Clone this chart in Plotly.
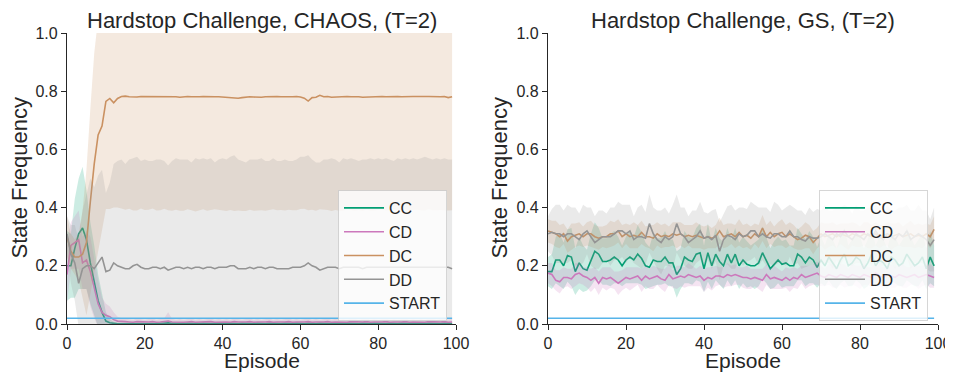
import plotly.graph_objects as go

episodes = list(range(100))
series_names = ["CC", "CD", "DC", "DD", "START"]
panel_titles = ["Hardstop Challenge, CHAOS, (T=2)", "Hardstop Challenge, GS, (T=2)"]
x_ticks = [0, 20, 40, 60, 80, 100]
y_ticks = [0.0, 0.2, 0.4, 0.6, 0.8, 1.0]

# ---------------- Left panel (CHAOS) ----------------
chaos_cc = [0.20,0.20,0.26,0.31,0.33,0.29,0.21,0.15,0.08,0.04,
            0.01,0.004,0.002,0.001,0.001,0.002,0.001,0.001,0.002,0.001,
            0.001,0.002,0.001,0.001,0.002,0.001,0.004,0.002,0.001,0.001,
            0.001,0.002,0.001,0.001,0.001,0.002,0.001,0.001,0.002,0.001,
            0.001,0.001,0.002,0.001,0.001,0.002,0.001,0.001,0.001,0.002,
            0.001,0.001,0.002,0.001,0.001,0.001,0.002,0.001,0.001,0.002,
            0.001,0.001,0.002,0.001,0.001,0.002,0.001,0.001,0.001,0.002,
            0.001,0.001,0.002,0.001,0.001,0.001,0.002,0.001,0.001,0.002,
            0.001,0.001,0.001,0.002,0.001,0.001,0.002,0.001,0.001,0.001,
            0.002,0.001,0.001,0.002,0.001,0.001,0.001,0.002,0.001,0.001]
chaos_cc_ci = [0.12,0.11,0.17,0.19,0.21,0.17,0.14,0.12,0.09,0.06,
               0.03,0.012,0.006,0.004,0.004,0.005,0.004,0.004,0.005,0.004,
               0.004,0.005,0.004,0.004,0.005,0.004,0.008,0.005,0.004,0.004,
               0.004,0.005,0.004,0.004,0.004,0.005,0.004,0.004,0.005,0.004,
               0.004,0.004,0.005,0.004,0.004,0.005,0.004,0.004,0.004,0.005,
               0.004,0.004,0.005,0.004,0.004,0.004,0.005,0.004,0.004,0.005,
               0.004,0.004,0.005,0.004,0.004,0.005,0.004,0.004,0.004,0.005,
               0.004,0.004,0.005,0.004,0.004,0.004,0.005,0.004,0.004,0.005,
               0.004,0.004,0.004,0.005,0.004,0.004,0.005,0.004,0.004,0.004,
               0.005,0.004,0.004,0.005,0.004,0.004,0.004,0.005,0.004,0.004]
chaos_cd = [0.17,0.27,0.28,0.29,0.21,0.22,0.18,0.12,0.07,0.04,
            0.03,0.025,0.015,0.010,0.008,0.008,0.007,0.006,0.008,0.007,
            0.006,0.007,0.008,0.006,0.007,0.008,0.010,0.007,0.006,0.007,
            0.006,0.007,0.008,0.006,0.007,0.006,0.007,0.008,0.006,0.007,
            0.006,0.007,0.006,0.008,0.007,0.006,0.007,0.008,0.006,0.007,
            0.006,0.007,0.008,0.006,0.007,0.006,0.007,0.008,0.006,0.007,
            0.006,0.007,0.008,0.006,0.007,0.006,0.007,0.008,0.006,0.007,
            0.006,0.007,0.006,0.008,0.007,0.006,0.007,0.008,0.006,0.007,
            0.006,0.007,0.008,0.006,0.007,0.006,0.007,0.008,0.006,0.007,
            0.006,0.007,0.006,0.008,0.007,0.006,0.007,0.008,0.006,0.007]
chaos_cd_ci = [0.10,0.08,0.09,0.10,0.09,0.10,0.12,0.10,0.08,0.05,
               0.04,0.035,0.025,0.015,0.012,0.010,0.010,0.009,0.011,0.010,
               0.009,0.010,0.011,0.009,0.010,0.012,0.030,0.011,0.009,0.010,
               0.009,0.010,0.011,0.009,0.010,0.009,0.010,0.011,0.009,0.010,
               0.009,0.010,0.009,0.011,0.010,0.009,0.010,0.011,0.009,0.010,
               0.009,0.010,0.011,0.009,0.010,0.009,0.010,0.011,0.009,0.010,
               0.009,0.010,0.011,0.009,0.010,0.009,0.010,0.011,0.009,0.010,
               0.009,0.010,0.009,0.011,0.010,0.009,0.010,0.011,0.009,0.010,
               0.009,0.010,0.011,0.009,0.010,0.009,0.010,0.011,0.009,0.010,
               0.009,0.010,0.009,0.011,0.010,0.009,0.010,0.011,0.009,0.010]
chaos_dc = [0.30,0.25,0.23,0.23,0.24,0.28,0.42,0.55,0.65,0.68,
            0.765,0.775,0.760,0.775,0.782,0.783,0.781,0.780,0.780,0.782,
            0.782,0.781,0.782,0.782,0.781,0.782,0.781,0.782,0.781,0.779,
            0.781,0.782,0.781,0.780,0.781,0.782,0.781,0.782,0.781,0.781,
            0.780,0.781,0.780,0.778,0.776,0.778,0.780,0.781,0.780,0.779,
            0.779,0.781,0.782,0.781,0.782,0.781,0.782,0.781,0.781,0.782,
            0.780,0.776,0.766,0.778,0.779,0.786,0.781,0.782,0.779,0.780,
            0.779,0.781,0.782,0.781,0.782,0.781,0.779,0.780,0.781,0.782,
            0.781,0.782,0.781,0.782,0.781,0.782,0.781,0.782,0.781,0.782,
            0.782,0.781,0.782,0.782,0.781,0.782,0.781,0.782,0.778,0.781]
chaos_dc_ci = [0.07,0.06,0.06,0.08,0.15,0.25,0.32,0.38,0.40,0.36,
               0.37,0.38,0.36,0.375,0.385,0.39,0.385,0.39,0.39,0.385,
               0.39,0.388,0.385,0.392,0.39,0.386,0.39,0.393,0.388,0.39,
               0.392,0.388,0.39,0.393,0.391,0.388,0.392,0.39,0.387,0.391,
               0.39,0.393,0.388,0.39,0.386,0.39,0.392,0.388,0.391,0.39,
               0.388,0.392,0.39,0.387,0.391,0.389,0.392,0.388,0.39,0.391,
               0.385,0.38,0.375,0.385,0.39,0.392,0.388,0.39,0.391,0.388,
               0.39,0.392,0.388,0.39,0.393,0.389,0.39,0.387,0.391,0.392,
               0.39,0.388,0.391,0.39,0.387,0.392,0.39,0.388,0.391,0.39,
               0.389,0.39,0.392,0.388,0.39,0.391,0.389,0.39,0.388,0.39]
chaos_dd = [0.31,0.24,0.21,0.14,0.19,0.20,0.20,0.19,0.21,0.23,
            0.18,0.185,0.21,0.20,0.195,0.19,0.19,0.20,0.205,0.195,
            0.19,0.19,0.195,0.195,0.19,0.195,0.185,0.19,0.195,0.195,
            0.19,0.195,0.19,0.195,0.195,0.19,0.195,0.195,0.19,0.195,
            0.195,0.195,0.20,0.20,0.19,0.19,0.19,0.195,0.19,0.195,
            0.195,0.19,0.195,0.195,0.19,0.19,0.19,0.19,0.195,0.195,
            0.195,0.20,0.21,0.20,0.195,0.185,0.19,0.195,0.195,0.195,
            0.19,0.195,0.195,0.195,0.195,0.195,0.19,0.195,0.195,0.195,
            0.195,0.195,0.195,0.195,0.195,0.195,0.195,0.195,0.195,0.195,
            0.195,0.195,0.195,0.195,0.195,0.195,0.195,0.195,0.195,0.19]
chaos_dd_ci = [0.06,0.10,0.13,0.15,0.20,0.25,0.30,0.28,0.30,0.30,
               0.27,0.30,0.34,0.36,0.37,0.36,0.375,0.37,0.37,0.365,
               0.375,0.37,0.365,0.37,0.375,0.365,0.36,0.37,0.375,0.37,
               0.375,0.37,0.365,0.375,0.37,0.38,0.37,0.375,0.365,0.37,
               0.375,0.37,0.375,0.38,0.375,0.37,0.365,0.37,0.375,0.37,
               0.375,0.37,0.365,0.375,0.37,0.37,0.375,0.37,0.365,0.37,
               0.38,0.375,0.37,0.365,0.36,0.37,0.375,0.37,0.375,0.37,
               0.365,0.375,0.37,0.375,0.37,0.365,0.375,0.37,0.375,0.37,
               0.375,0.37,0.375,0.37,0.365,0.375,0.37,0.375,0.37,0.375,
               0.37,0.375,0.38,0.375,0.37,0.375,0.37,0.375,0.37,0.375]
chaos_start = [0.02] * 100

# ---------------- Right panel (GS) ----------------
gs_cc = [0.18,0.18,0.22,0.22,0.20,0.235,0.23,0.18,0.21,0.19,
         0.185,0.22,0.25,0.24,0.215,0.215,0.22,0.23,0.22,0.20,
         0.22,0.23,0.22,0.24,0.225,0.20,0.195,0.22,0.215,0.215,
         0.23,0.21,0.21,0.17,0.19,0.23,0.22,0.215,0.24,0.245,
         0.19,0.245,0.20,0.24,0.215,0.20,0.24,0.21,0.24,0.20,
         0.22,0.205,0.20,0.20,0.21,0.245,0.22,0.19,0.205,0.22,
         0.205,0.21,0.20,0.20,0.24,0.23,0.21,0.23,0.22,0.195,
         0.22,0.20,0.23,0.21,0.19,0.22,0.24,0.20,0.21,0.23,
         0.22,0.19,0.21,0.24,0.20,0.22,0.21,0.19,0.23,0.22,
         0.20,0.21,0.24,0.22,0.20,0.21,0.23,0.19,0.23,0.20]
gs_cc_ci = [0.05,0.06,0.08,0.09,0.08,0.09,0.10,0.08,0.09,0.08,
            0.07,0.09,0.10,0.09,0.08,0.08,0.09,0.09,0.08,0.07,
            0.08,0.09,0.08,0.10,0.09,0.08,0.07,0.09,0.08,0.08,
            0.09,0.08,0.08,0.08,0.07,0.09,0.08,0.08,0.09,0.10,
            0.08,0.10,0.08,0.09,0.08,0.08,0.09,0.08,0.09,0.08,
            0.08,0.08,0.07,0.08,0.08,0.09,0.08,0.07,0.08,0.08,
            0.08,0.08,0.07,0.07,0.09,0.08,0.08,0.09,0.08,0.07,
            0.08,0.07,0.08,0.08,0.07,0.08,0.09,0.07,0.08,0.08,
            0.08,0.07,0.08,0.09,0.07,0.08,0.08,0.07,0.08,0.08,
            0.07,0.08,0.09,0.08,0.07,0.08,0.08,0.07,0.09,0.07]
gs_cd = [0.175,0.17,0.15,0.145,0.16,0.16,0.155,0.17,0.175,0.165,
         0.16,0.15,0.16,0.14,0.16,0.155,0.16,0.15,0.14,0.15,
         0.16,0.155,0.16,0.165,0.15,0.165,0.155,0.16,0.165,0.155,
         0.15,0.17,0.155,0.16,0.165,0.16,0.17,0.165,0.16,0.165,
         0.15,0.16,0.155,0.165,0.165,0.16,0.17,0.165,0.17,0.165,
         0.16,0.16,0.155,0.16,0.155,0.15,0.17,0.155,0.16,0.155,
         0.15,0.16,0.15,0.16,0.155,0.17,0.16,0.165,0.17,0.175,
         0.165,0.16,0.17,0.165,0.16,0.17,0.165,0.16,0.17,0.165,
         0.16,0.17,0.165,0.16,0.175,0.165,0.16,0.17,0.165,0.16,
         0.17,0.165,0.16,0.165,0.17,0.16,0.165,0.17,0.165,0.16]
gs_cd_ci = [0.035,0.04,0.035,0.04,0.035,0.03,0.035,0.04,0.035,0.03,
            0.035,0.04,0.035,0.04,0.035,0.04,0.035,0.03,0.04,0.035,
            0.035,0.04,0.035,0.03,0.04,0.035,0.035,0.04,0.03,0.035,
            0.04,0.035,0.03,0.04,0.035,0.035,0.04,0.035,0.03,0.035,
            0.04,0.035,0.04,0.035,0.03,0.035,0.04,0.035,0.035,0.03,
            0.035,0.04,0.035,0.03,0.035,0.04,0.035,0.035,0.04,0.035,
            0.03,0.035,0.04,0.035,0.035,0.03,0.04,0.035,0.035,0.04,
            0.035,0.03,0.035,0.04,0.035,0.035,0.04,0.03,0.035,0.035,
            0.04,0.035,0.03,0.035,0.04,0.035,0.035,0.03,0.04,0.035,
            0.035,0.04,0.035,0.03,0.035,0.04,0.035,0.035,0.04,0.035]
gs_dc = [0.32,0.315,0.31,0.30,0.31,0.285,0.30,0.305,0.31,0.30,
         0.31,0.31,0.30,0.295,0.30,0.30,0.31,0.31,0.32,0.30,
         0.31,0.30,0.305,0.30,0.315,0.30,0.30,0.295,0.31,0.30,
         0.305,0.30,0.31,0.305,0.31,0.30,0.305,0.30,0.305,0.30,
         0.295,0.30,0.295,0.30,0.32,0.30,0.305,0.31,0.30,0.315,
         0.30,0.305,0.295,0.31,0.30,0.33,0.30,0.315,0.30,0.31,
         0.315,0.30,0.31,0.30,0.29,0.295,0.305,0.30,0.28,0.295,
         0.31,0.30,0.305,0.31,0.30,0.31,0.305,0.30,0.31,0.305,
         0.30,0.31,0.305,0.30,0.31,0.30,0.305,0.31,0.30,0.305,
         0.31,0.30,0.305,0.31,0.30,0.305,0.30,0.31,0.30,0.325]
gs_dc_ci = [0.04,0.04,0.045,0.04,0.035,0.04,0.045,0.04,0.04,0.035,
            0.04,0.045,0.04,0.04,0.035,0.04,0.045,0.04,0.04,0.04,
            0.035,0.04,0.045,0.04,0.04,0.035,0.04,0.045,0.04,0.04,
            0.04,0.035,0.04,0.045,0.04,0.04,0.035,0.04,0.045,0.04,
            0.04,0.04,0.035,0.04,0.045,0.04,0.04,0.035,0.04,0.045,
            0.04,0.04,0.04,0.035,0.04,0.045,0.04,0.04,0.035,0.04,
            0.045,0.04,0.04,0.04,0.035,0.04,0.045,0.04,0.04,0.035,
            0.04,0.045,0.04,0.04,0.04,0.035,0.04,0.045,0.04,0.04,
            0.035,0.04,0.045,0.04,0.04,0.04,0.035,0.04,0.045,0.04,
            0.04,0.035,0.04,0.045,0.04,0.04,0.04,0.035,0.04,0.045]
gs_dd = [0.31,0.315,0.31,0.31,0.30,0.31,0.31,0.30,0.29,0.31,
         0.32,0.30,0.28,0.29,0.30,0.30,0.30,0.31,0.32,0.32,
         0.31,0.32,0.29,0.30,0.30,0.295,0.345,0.31,0.29,0.28,
         0.30,0.29,0.30,0.345,0.31,0.30,0.28,0.29,0.30,0.32,
         0.295,0.30,0.29,0.305,0.25,0.29,0.305,0.30,0.29,0.31,
         0.30,0.305,0.32,0.32,0.30,0.31,0.30,0.295,0.31,0.31,
         0.30,0.30,0.32,0.30,0.30,0.29,0.285,0.30,0.295,0.295,
         0.30,0.31,0.30,0.29,0.31,0.30,0.32,0.30,0.29,0.31,
         0.30,0.29,0.31,0.30,0.32,0.30,0.29,0.31,0.30,0.29,
         0.31,0.30,0.32,0.29,0.30,0.31,0.30,0.29,0.27,0.29]
gs_dd_ci = [0.06,0.08,0.10,0.10,0.09,0.10,0.09,0.10,0.09,0.10,
            0.08,0.10,0.09,0.10,0.09,0.08,0.10,0.09,0.10,0.09,
            0.10,0.09,0.08,0.10,0.11,0.09,0.10,0.09,0.10,0.11,
            0.10,0.09,0.11,0.10,0.09,0.10,0.09,0.10,0.09,0.10,
            0.09,0.08,0.10,0.09,0.10,0.09,0.10,0.11,0.10,0.09,
            0.10,0.09,0.10,0.09,0.10,0.09,0.10,0.09,0.11,0.10,
            0.09,0.10,0.09,0.10,0.09,0.10,0.09,0.10,0.09,0.10,
            0.09,0.10,0.09,0.10,0.09,0.10,0.09,0.10,0.09,0.10,
            0.09,0.10,0.09,0.10,0.09,0.10,0.09,0.10,0.09,0.10,
            0.09,0.10,0.09,0.10,0.09,0.10,0.09,0.10,0.09,0.11]
gs_start = [0.02] * 100

panels = [
    [(chaos_cc, chaos_cc_ci), (chaos_cd, chaos_cd_ci), (chaos_dc, chaos_dc_ci),
     (chaos_dd, chaos_dd_ci), (chaos_start, None)],
    [(gs_cc, gs_cc_ci), (gs_cd, gs_cd_ci), (gs_dc, gs_dc_ci),
     (gs_dd, gs_dd_ci), (gs_start, None)],
]

colors = ["#029e73", "#cc78bc", "#ca9161", "#949494", "#56b4e9"]
fills = ["rgba(2,158,115,0.2)", "rgba(204,120,188,0.2)", "rgba(202,145,97,0.2)",
         "rgba(148,148,148,0.2)", "rgba(86,180,233,0.2)"]

# The page body has an 8px margin, so the figure is placed at (8, 8) in the window.
OFF = 8
W, H = 953 - OFF, 374 - OFF
FONT = "Liberation Sans, Arial, sans-serif"
TXT = "#262626"


def fx(px):
    return (px - OFF) / W


def fy(py):
    return 1 - (py - OFF) / H


fig = go.Figure()
for p, panel in enumerate(panels):
    xa = "x" if p == 0 else "x2"
    ya = "y" if p == 0 else "y2"
    lg = "legend" if p == 0 else "legend2"
    for k, (mean, ci) in enumerate(panel):
        if ci is not None:
            hi = [m + c for m, c in zip(mean, ci)]
            lo = [m - c for m, c in zip(mean, ci)]
            fig.add_trace(go.Scatter(
                x=episodes + episodes[::-1], y=hi + lo[::-1],
                fill="toself", fillcolor=fills[k], line=dict(width=0),
                mode="lines", hoverinfo="skip", showlegend=False,
                xaxis=xa, yaxis=ya))
        fig.add_trace(go.Scatter(
            x=episodes, y=mean, mode="lines", name=series_names[k],
            line=dict(color=colors[k], width=1.6),
            xaxis=xa, yaxis=ya, legend=lg))

px0 = [(67, 456), (548, 938)]
py_top, py_bot = 33, 324

axis_common = dict(showline=True, linecolor=TXT, linewidth=1.25, ticks="outside",
                   ticklen=5, tickwidth=1.25, tickcolor=TXT, showgrid=False,
                   zeroline=False, automargin=False,
                   tickfont=dict(size=16, color=TXT, family=FONT))

layout = dict(
    width=W, height=H, margin=dict(l=0, r=0, t=0, b=0, autoexpand=False),
    paper_bgcolor="white", plot_bgcolor="white",
    font=dict(family=FONT, color=TXT),
    showlegend=True,
)
for p in range(2):
    sx = "" if p == 0 else "2"
    layout["xaxis" + sx] = dict(axis_common, domain=[fx(px0[p][0]), fx(px0[p][1])],
                                range=[0, 100], tickvals=x_ticks,
                                anchor="y" + sx)
    layout["yaxis" + sx] = dict(axis_common, domain=[fy(py_bot), fy(py_top)],
                                range=[0, 1], tickvals=y_ticks, tickformat=".1f",
                                anchor="x" + sx)
leg_common = dict(bgcolor="rgba(255,255,255,0.8)", bordercolor="rgba(204,204,204,0.8)",
                  borderwidth=1, font=dict(size=16, color=TXT, family=FONT),
                  xanchor="left", yanchor="top", tracegroupgap=0, itemwidth=40)
layout["legend"] = dict(leg_common, x=fx(338), y=fy(190))
layout["legend2"] = dict(leg_common, x=fx(819), y=fy(190))

annotations = []
for p in range(2):
    cx = (px0[p][0] + px0[p][1]) / 2
    annotations.append(dict(text=panel_titles[p], x=fx(cx), y=fy(20), xref="paper",
                            yref="paper", showarrow=False, xanchor="center", yanchor="middle",
                            font=dict(size=22, color=TXT, family=FONT)))
    annotations.append(dict(text="Episode", x=fx(cx), y=fy(360), xref="paper",
                            yref="paper", showarrow=False, xanchor="center", yanchor="middle",
                            font=dict(size=21, color=TXT, family=FONT)))
    ax_x = 19 if p == 0 else 499
    annotations.append(dict(text="State Frequency", x=fx(ax_x), y=fy(178.5),
                            xref="paper", yref="paper", showarrow=False, textangle=-90,
                            xanchor="center", yanchor="middle",
                            font=dict(size=22, color=TXT, family=FONT)))
layout["annotations"] = annotations

fig.update_layout(**layout)
fig.write_html("out.html")
